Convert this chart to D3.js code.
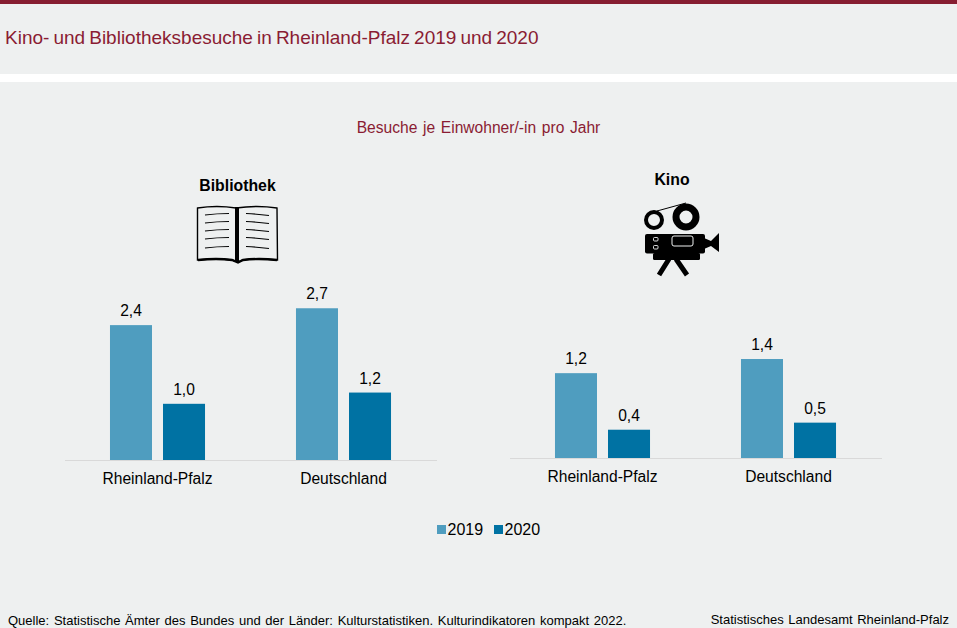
<!DOCTYPE html>
<html lang="de">
<head>
<meta charset="utf-8">
<title>Kino- und Bibliotheksbesuche</title>
<script src="https://cdn.jsdelivr.net/npm/d3@7"></script>
<style>
  html, body { margin: 0; padding: 0; background: #fff; overflow: hidden; }
  svg { display: block; font-family: "Liberation Sans", Arial, sans-serif; }
</style>
</head>
<body>
<div id="chart"></div>
<script>
const regions = ["Rheinland-Pfalz", "Deutschland"];
const years = ["2019", "2020"];
const bibliothek = [[2.4, 1.0], [2.7, 1.2]];
const kino = [[1.2, 0.4], [1.4, 0.5]];
const yearColors = ["#4f9dbf", "#0072a3"];

const width = 957;
const height = 628;
const red = "#8a1c33";
const bg = "#eef0f0";

const svg = d3.select("#chart").append("svg")
  .attr("width", width)
  .attr("height", height);

// Header and panel backgrounds
svg.append("rect").attr("width", width).attr("height", height).attr("fill", "#fff");
svg.append("rect").attr("width", width).attr("height", 74).attr("fill", bg);
svg.append("rect").attr("width", width).attr("height", 4).attr("fill", "#861d31");
svg.append("rect").attr("y", 82).attr("width", width).attr("height", height - 82).attr("fill", bg);

svg.append("text")
  .attr("x", 5).attr("y", 44)
  .attr("fill", red)
  .style("font-size", "19px")
  .style("word-spacing", "-1.2px")
  .text("Kino- und Bibliotheksbesuche in Rheinland-Pfalz 2019 und 2020");

svg.append("text")
  .attr("x", 478.5).attr("y", 133)
  .attr("text-anchor", "middle")
  .attr("fill", red)
  .style("font-size", "15.6px")
  .style("word-spacing", "1.3px")
  .text("Besuche je Einwohner/-in pro Jahr");

// One small bar panel
function panel(values, opts) {
  const x0 = d3.scaleBand()
    .domain(regions)
    .range(opts.xRange)
    .paddingInner(0.489)
    .paddingOuter(0.2445);

  const x1 = d3.scaleBand()
    .domain(years)
    .range([0, x0.bandwidth()])
    .paddingInner(0.2075);

  const y = d3.scaleLinear()
    .domain([0, 1])
    .range([opts.baseline, opts.baseline - opts.unit]);

  const g = svg.append("g");

  const group = g.selectAll("g.group")
    .data(regions)
    .join("g")
      .attr("class", "group")
      .attr("transform", d => `translate(${x0(d)},0)`);

  const cell = group.selectAll("g")
    .data((d, i) => years.map((yr, j) => ({ yr, value: values[i][j], color: yearColors[j] })))
    .join("g");

  cell.append("rect")
    .attr("x", d => x1(d.yr))
    .attr("y", d => y(d.value))
    .attr("width", x1.bandwidth())
    .attr("height", d => y(0) - y(d.value))
    .attr("fill", d => d.color);

  cell.append("text")
    .attr("x", d => x1(d.yr) + x1.bandwidth() / 2)
    .attr("y", d => y(d.value) - 9)
    .attr("text-anchor", "middle")
    .attr("fill", "#000")
    .style("font-size", "15.6px")
    .text(d => d3.format(".1f")(d.value).replace(".", ","));

  const axis = g.append("g")
    .attr("transform", `translate(0,${opts.baseline})`)
    .call(d3.axisBottom(x0).tickSize(0).tickPadding(opts.labelPad));
  axis.select(".domain").attr("stroke", "#d9d9d9").attr("stroke-width", 1);
  axis.selectAll("text")
    .attr("fill", "#000")
    .style("font-family", '"Liberation Sans", Arial, sans-serif')
    .style("font-size", "15.6px");

  svg.append("text")
    .attr("x", opts.titleX).attr("y", opts.titleY)
    .attr("text-anchor", "middle")
    .attr("fill", "#000")
    .style("font-size", "15.8px")
    .style("font-weight", "bold")
    .text(opts.title);
}

panel(bibliothek, { xRange: [64.5, 436.5], baseline: 460, unit: 56.2, labelPad: 13, title: "Bibliothek", titleX: 237.5, titleY: 191 });
panel(kino, { xRange: [509.5, 881.5], baseline: 458, unit: 70.7, labelPad: 13, title: "Kino", titleX: 672, titleY: 185 });

// Book icon
const book = svg.append("g").attr("fill", "none").attr("stroke", "#000");
book.append("path")
  .attr("stroke-width", 1.4)
  .attr("d", "M197.5 208 Q217 205 236 208 Q257 205 277 208 L277.5 260 Q257 258 243 260 L238 262 L232 260 Q217 258 197.5 260 Z");
book.append("path")
  .attr("stroke-width", 4)
  .attr("d", "M237 207 V262");
book.append("path")
  .attr("stroke-width", 2.4)
  .attr("d", "M198 260 Q217 258 232 260 L238 262.5 L243 260 Q258 258 277 260");
[215, 223, 231, 239, 248].forEach(ly => {
  book.append("path").attr("stroke-width", 1.1)
    .attr("d", `M205 ${ly} Q217 ${ly - 1.5} 229 ${ly - 1.5}`);
  book.append("path").attr("stroke-width", 1.1)
    .attr("d", `M246 ${ly - 1.5} Q258 ${ly - 1} 269 ${ly + 0.5}`);
});

// Camera icon
const cam = svg.append("g");
cam.append("path").attr("stroke", "#000").attr("stroke-width", 1).attr("fill", "none")
  .attr("d", "M657 211 L686 203");
cam.append("circle").attr("cx", 654).attr("cy", 220).attr("r", 8).attr("fill", "none").attr("stroke", "#000").attr("stroke-width", 4);
cam.append("circle").attr("cx", 686).attr("cy", 217).attr("r", 10).attr("fill", "none").attr("stroke", "#000").attr("stroke-width", 7);
cam.append("rect").attr("x", 645).attr("y", 234).attr("width", 60).attr("height", 19.5).attr("rx", 2).attr("fill", "#000");
cam.append("path").attr("fill", "#000").attr("d", "M704 238 L711 241 L719 233 V252 L711 246 L704 249 Z");
cam.append("rect").attr("x", 653).attr("y", 253).attr("width", 47).attr("height", 7).attr("rx", 1.5).attr("fill", "#000");
cam.append("path").attr("stroke", "#000").attr("stroke-width", 5).attr("fill", "none")
  .attr("d", "M669 259 L659 275 M676 259 L687 275");
cam.append("rect").attr("x", 672).attr("y", 236).attr("width", 21).attr("height", 10).attr("rx", 2).attr("fill", "none").attr("stroke", bg).attr("stroke-width", 1);
cam.selectAll(".btn").data([237.5, 245.5]).join("rect").attr("class", "btn")
  .attr("x", 653.5).attr("y", d => d).attr("width", 4.5).attr("height", 3.5).attr("rx", 1)
  .attr("fill", "none").attr("stroke", bg).attr("stroke-width", 0.9);

// Legend
const legend = svg.append("g").selectAll("g")
  .data(years)
  .join("g")
    .attr("transform", (d, i) => `translate(${437 + i * 57},0)`);
legend.append("rect")
  .attr("y", 525).attr("width", 9).attr("height", 9)
  .attr("fill", (d, i) => yearColors[i]);
legend.append("text")
  .attr("x", 10.5).attr("y", 535)
  .attr("fill", "#000")
  .style("font-size", "16px")
  .text(d => d);

// Footer
svg.append("text")
  .attr("x", 8).attr("y", 625)
  .attr("fill", "#000")
  .style("font-size", "13px")
  .style("word-spacing", "1.1px")
  .text("Quelle: Statistische Ämter des Bundes und der Länder: Kulturstatistiken. Kulturindikatoren kompakt 2022.");
svg.append("text")
  .attr("x", 949).attr("y", 624)
  .attr("text-anchor", "end")
  .attr("fill", "#000")
  .style("font-size", "13px")
  .style("word-spacing", "1px")
  .text("Statistisches Landesamt Rheinland-Pfalz");
</script>
</body>
</html>
